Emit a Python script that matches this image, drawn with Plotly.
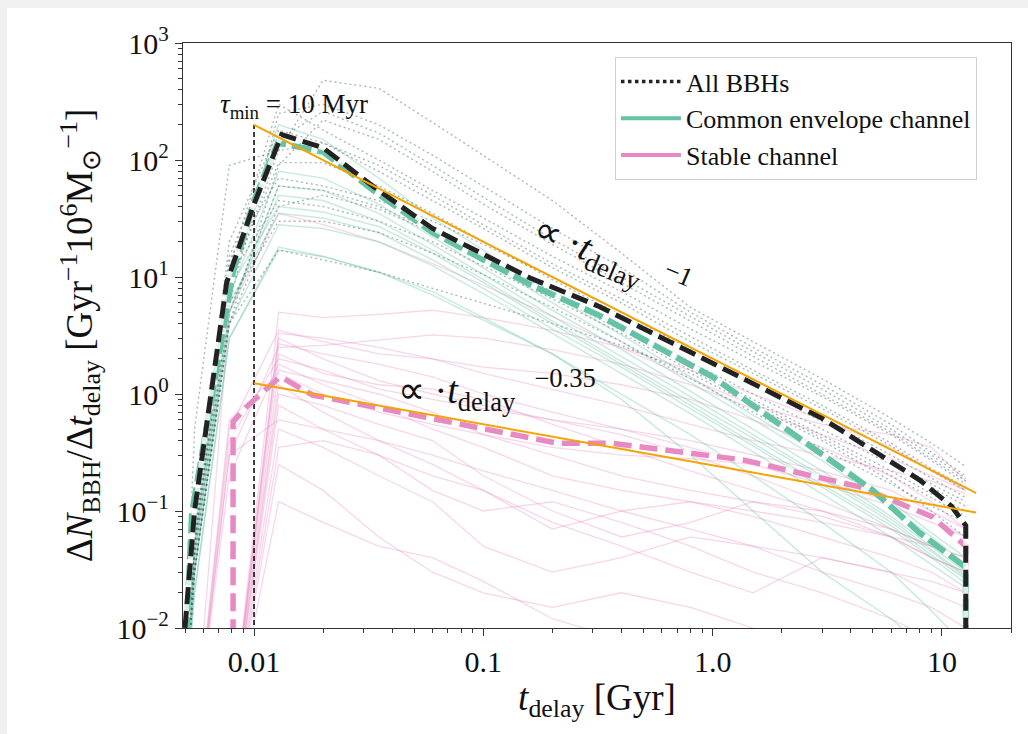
import numpy as np
import plotly.graph_objects as go

# ---------------- data ----------------
# main curves
black_x = [0.005, 0.0055, 0.0076, 0.01, 0.0132, 0.02, 0.034, 0.06, 0.16, 0.32, 1.0, 3.0, 8.0, 11.0, 12.7, 12.7]
black_y = [0.01, 0.1, 9.0, 42, 165, 127, 57, 26, 9.8, 5.6, 1.83, 0.62, 0.184, 0.11, 0.075, 0.005]

ce_x = [0.005, 0.00536, 0.0081, 0.01, 0.0127, 0.02, 0.034, 0.06, 0.16, 0.32, 1.0, 2.56, 5.0, 8.0, 12.7, 12.7]
ce_y = [0.005, 0.096, 11, 45, 140, 118, 53, 24, 8.6, 4.7, 1.4, 0.38, 0.15, 0.065, 0.033, 0.003]

st_x = [0.0081, 0.0081, 0.0093, 0.013, 0.018, 0.21, 0.36, 1.36, 4.37, 9.1, 12.7, 12.7]
st_y = [0.003, 0.58, 0.78, 1.41, 0.98, 0.38, 0.38, 0.273, 0.161, 0.089, 0.05, 0.003]

# power-law guide lines
fit1_x = [0.01, 14.1]
fit1_y = [200, 0.142]
fit2_x = [0.01, 14.1]
fit2_y = [1.235, 0.097]
tau_x = [0.01, 0.01]
tau_y = [0.001, 200]

# background per-model curves on a common grid
grid = [0.005, 0.0055, 0.0078, 0.0128, 0.02, 0.035, 0.06, 0.1, 0.2, 0.4, 0.8, 1.5, 3.0, 6.0, 9.0, 12.7]

dotted_all = [
    [0.004, 0.05, 8, 120, 480, 410, 210, 110, 45, 16, 5.5, 2.8, 1.35, 0.62, 0.38, 0.24],
    [0.003, 0.04, 6, 250, 300, 200, 110, 60, 26, 12, 5.0, 2.5, 1.2, 0.55, 0.32, 0.2],
    [0.003, 0.06, 12, 300, 180, 100, 55, 32, 15, 7.5, 3.6, 1.9, 0.95, 0.45, 0.27, 0.17],
    [0.002, 0.03, 4, 90, 220, 150, 80, 42, 19, 9, 4.2, 2.1, 1.0, 0.47, 0.28, 0.18],
    [0.004, 0.08, 20, 180, 140, 80, 45, 26, 12, 6, 2.8, 1.5, 0.75, 0.36, 0.22, 0.15],
    [0.003, 0.05, 9, 95, 95, 60, 35, 20, 9.5, 4.7, 2.3, 1.25, 0.62, 0.3, 0.19, 0.13],
    [0.002, 0.03, 5, 60, 55, 40, 25, 15, 7.5, 3.8, 1.9, 1.0, 0.5, 0.25, 0.16, 0.11],
    [0.003, 0.05, 10, 45, 40, 30, 20, 12.5, 6.5, 3.3, 1.6, 0.85, 0.42, 0.2, 0.13, 0.09],
    [0.002, 0.04, 6, 30, 30, 24, 16, 10.5, 5.5, 2.8, 1.35, 0.7, 0.34, 0.17, 0.11, 0.08],
    [0.002, 0.03, 4, 17, 14, 11, 8, 6, 4, 2.6, 1.5, 0.8, 0.4, 0.18, 0.1, 0.06],
    [0.003, 0.06, 14, 70, 60, 45, 30, 19, 10, 5, 2.4, 1.2, 0.58, 0.27, 0.17, 0.12],
    [0.002, 0.03, 4, 40, 50, 38, 24, 14.5, 7, 3.5, 1.7, 0.9, 0.45, 0.22, 0.14, 0.1],
    [0.005, 0.5, 90, 120, 140, 90, 50, 28, 13, 6.5, 3.1, 1.6, 0.8, 0.38, 0.23, 0.16],
    [0.003, 0.07, 15, 150, 260, 170, 90, 48, 21, 10, 4.6, 2.3, 1.1, 0.5, 0.3, 0.19],
]

teal_models = [
    [0.003, 0.05, 9, 140, 110, 55, 26, 14, 6, 2.8, 1.25, 0.6, 0.27, 0.11, 0.06, 0.035],
    [0.003, 0.04, 7, 80, 70, 42, 22, 12, 5.2, 2.4, 1.05, 0.5, 0.22, 0.09, 0.05, 0.03],
    [0.002, 0.03, 5, 50, 45, 30, 17, 9.5, 4.2, 1.9, 0.85, 0.42, 0.19, 0.08, 0.045, 0.027],
    [0.002, 0.04, 6, 35, 32, 24, 14, 8, 3.6, 1.7, 0.75, 0.36, 0.16, 0.07, 0.04, 0.024],
    [0.002, 0.03, 4, 28, 26, 20, 12.5, 7.2, 3.3, 1.5, 0.68, 0.32, 0.14, 0.06, 0.035, 0.022],
    [0.003, 0.06, 11, 200, 150, 70, 32, 17, 7, 3.2, 1.4, 0.66, 0.3, 0.12, 0.065, 0.04],
    [0.002, 0.02, 3, 18, 15, 11, 7.5, 4.5, 2.2, 1.0, 0.45, 0.2, 0.08, 0.03, 0.014, 0.007],
    [0.002, 0.03, 5, 60, 55, 35, 19, 10.5, 4.6, 2.1, 0.95, 0.45, 0.2, 0.085, 0.047, 0.028],
    [0.003, 0.05, 8, 40, 36, 27, 16, 9, 4, 1.8, 0.8, 0.38, 0.17, 0.075, 0.042, 0.026],
    [0.002, 0.02, 3, 17, 15, 11, 7, 4.3, 2.2, 0.9, 0.3, 0.1, 0.03, 0.012, 0.006, 0.003],
]

pink_models = [
    [0.001, 0.001, 0.5, 3.5, 2.8, 2.2, 2.0, 1.7, 1.5, 1.2, 0.9, 0.6, 0.35, 0.2, 0.12, 0.07],
    [0.001, 0.001, 0.001, 3.0, 2.0, 1.3, 1.0, 0.8, 0.6, 0.45, 0.3, 0.2, 0.12, 0.07, 0.05, 0.035],
    [0.001, 0.001, 0.3, 2.5, 2.6, 2.9, 3.2, 3.0, 2.4, 1.8, 1.2, 0.75, 0.45, 0.28, 0.2, 0.15],
    [0.001, 0.001, 0.001, 5.0, 4.5, 4.8, 5.2, 4.5, 3.5, 2.5, 1.6, 1.0, 0.6, 0.35, 0.22, 0.15],
    [0.001, 0.001, 0.2, 1.8, 1.2, 0.8, 0.5, 0.35, 0.2, 0.15, 0.12, 0.1, 0.08, 0.06, 0.04, 0.03],
    [0.001, 0.001, 0.001, 1.2, 0.7, 0.4, 0.25, 0.15, 0.07, 0.1, 0.12, 0.09, 0.06, 0.04, 0.03, 0.02],
    [0.001, 0.001, 0.001, 0.8, 0.5, 0.3, 0.15, 0.1, 0.12, 0.08, 0.05, 0.03, 0.02, 0.012, 0.008, 0.005],
    [0.001, 0.001, 0.4, 2.0, 1.6, 1.1, 0.9, 0.75, 0.6, 0.5, 0.4, 0.3, 0.22, 0.15, 0.1, 0.07],
    [0.001, 0.001, 0.001, 0.5, 0.35, 0.2, 0.12, 0.05, 0.03, 0.04, 0.06, 0.05, 0.03, 0.02, 0.015, 0.01],
    [0.001, 0.001, 0.001, 0.25, 0.15, 0.06, 0.03, 0.02, 0.015, 0.02, 0.015, 0.01, 0.006, 0.004, 0.003, 0.002],
    [0.001, 0.001, 0.001, 2.2, 1.5, 1.2, 1.1, 0.9, 0.55, 0.35, 0.22, 0.15, 0.1, 0.07, 0.05, 0.04],
    [0.001, 0.001, 0.6, 1.5, 1.0, 0.7, 0.55, 0.45, 0.3, 0.2, 0.15, 0.12, 0.09, 0.06, 0.05, 0.04],
    [0.001, 0.001, 0.001, 3.3, 3.0, 2.5, 2.0, 1.5, 1.1, 0.8, 0.55, 0.4, 0.3, 0.22, 0.18, 0.14],
    [0.001, 0.001, 0.001, 0.12, 0.08, 0.05, 0.04, 0.025, 0.012, 0.008, 0.01, 0.007, 0.005, 0.003, 0.002, 0.001],
    [0.001, 0.001, 0.001, 1.0, 0.8, 0.55, 0.4, 0.2, 0.1, 0.06, 0.08, 0.12, 0.1, 0.06, 0.04, 0.03],
    [0.001, 0.001, 0.3, 0.6, 0.5, 0.4, 0.3, 0.22, 0.15, 0.1, 0.07, 0.05, 0.04, 0.03, 0.025, 0.02],
    [0.001, 0.001, 5, 35, 28, 20, 13, 8.5, 4.6, 2.5, 1.35, 0.8, 0.55, 0.45, 0.35, 0.18],
    [0.001, 0.001, 0.001, 1.6, 1.3, 1.0, 0.7, 0.45, 0.35, 0.3, 0.28, 0.25, 0.18, 0.12, 0.09, 0.06],
    [0.001, 0.001, 0.001, 0.35, 0.4, 0.3, 0.2, 0.15, 0.08, 0.05, 0.03, 0.02, 0.04, 0.03, 0.02, 0.015],
    [0.001, 0.001, 0.001, 2.7, 2.2, 1.8, 1.4, 1.0, 0.7, 0.5, 0.35, 0.25, 0.17, 0.11, 0.08, 0.06],
]

y_tickvals = [1e-2, 1e-1, 1, 10, 100, 1000]
y_ticktext = ["10<sup>−2</sup>", "10<sup>−1</sup>", "10<sup>0</sup>", "10<sup>1</sup>", "10<sup>2</sup>", "10<sup>3</sup>"]
x_tickvals = [0.01, 0.1, 1.0, 10]
x_ticktext = ["0.01", "0.1", "1.0", "10"]

# ---------------- style ----------------
TEAL = "#66c2a5"
PINK = "#e78ac3"
ORANGE = "#f5a300"
FONT = "Liberation Serif"

fig = go.Figure()

for ys in pink_models:
    fig.add_trace(go.Scatter(x=grid, y=ys, mode="lines", showlegend=False, hoverinfo="skip",
                             line=dict(color="rgba(231,138,195,0.35)", width=1.3)))
for ys in teal_models:
    fig.add_trace(go.Scatter(x=grid, y=ys, mode="lines", showlegend=False, hoverinfo="skip",
                             line=dict(color="rgba(102,194,165,0.35)", width=1.5)))
for ys in dotted_all:
    fig.add_trace(go.Scatter(x=grid, y=ys, mode="lines", showlegend=False, hoverinfo="skip",
                             line=dict(color="rgba(70,100,100,0.45)", width=1.4, dash="2px,3px")))

# tau_min marker
fig.add_trace(go.Scatter(x=tau_x, y=tau_y, mode="lines", showlegend=False, hoverinfo="skip",
                         line=dict(color="#111", width=1.6, dash="5px,3px")))

# main curves (white under-stroke to give light gaps)
for xs, ys, col, w, dash in [
    (st_x, st_y, PINK, 5.5, "18px,8px"),
    (ce_x, ce_y, TEAL, 6, "20px,6px"),
    (black_x, black_y, "#222222", 5, "17px,7px"),
]:
    fig.add_trace(go.Scatter(x=xs, y=ys, mode="lines", showlegend=False, hoverinfo="skip",
                             line=dict(color="rgba(255,255,255,0.75)", width=w)))
    fig.add_trace(go.Scatter(x=xs, y=ys, mode="lines", showlegend=False, hoverinfo="skip",
                             line=dict(color=col, width=w, dash=dash)))

# fits
fig.add_trace(go.Scatter(x=fit1_x, y=fit1_y, mode="lines", showlegend=False, hoverinfo="skip",
                         line=dict(color=ORANGE, width=2)))
fig.add_trace(go.Scatter(x=fit2_x, y=fit2_y, mode="lines", showlegend=False, hoverinfo="skip",
                         line=dict(color=ORANGE, width=2)))

# legend entries
fig.add_trace(go.Scatter(x=[None], y=[None], mode="lines", name="All BBHs",
                         line=dict(color="#222", width=3.5, dash="dot")))
fig.add_trace(go.Scatter(x=[None], y=[None], mode="lines", name="Common envelope channel",
                         line=dict(color=TEAL, width=4)))
fig.add_trace(go.Scatter(x=[None], y=[None], mode="lines", name="Stable channel",
                         line=dict(color=PINK, width=4)))

minor_y = [m * 10.0 ** e for e in range(-2, 3) for m in range(2, 10)]
minor_x = [m * 10.0 ** e for e in range(-3, 2) for m in range(2, 10)]

# plot area in page pixels: x 183..1011, y 43..628 (page has an 8px body margin)
fig.update_layout(
    width=1028, height=734,
    margin=dict(l=175, r=25, t=35, b=114),
    paper_bgcolor="white", plot_bgcolor="white",
    font=dict(family=FONT, color="#111", size=22),
    legend=dict(x=0.5217, y=0.976, xanchor="left", yanchor="top",
                bgcolor="rgba(255,255,255,0.85)", bordercolor="#d0d0d0", borderwidth=1,
                font=dict(size=26, family=FONT), tracegroupgap=2, itemwidth=60),
    xaxis=dict(type="log", range=[np.log10(0.0049), np.log10(20.0)],
               tickvals=x_tickvals, ticktext=x_ticktext, ticks="outside", ticklen=7,
               tickwidth=1.2, tickcolor="#333", tickfont=dict(size=30, family=FONT),
               showgrid=False, zeroline=False, showline=True, linecolor="#333", linewidth=1.3,
               mirror=True,
               minor=dict(tickvals=minor_x, ticks="outside", ticklen=4, tickcolor="#333", showgrid=False),
               title=dict(text="<i>t</i><sub>delay</sub> [Gyr]", font=dict(size=37, family=FONT), standoff=6)),
    yaxis=dict(type="log", range=[-2, 3],
               tickvals=y_tickvals, ticktext=y_ticktext, ticks="outside", ticklen=7,
               tickwidth=1.2, tickcolor="#333", tickfont=dict(size=30, family=FONT),
               showgrid=False, zeroline=False, showline=True, linecolor="#333", linewidth=1.3,
               mirror=True,
               minor=dict(tickvals=minor_y, ticks="outside", ticklen=4, tickcolor="#333", showgrid=False),
               title=dict(text="Δ<i>N</i><sub>BBH</sub>/Δ<i>t</i><sub>delay</sub> [Gyr<sup>−1</sup>10<sup>6</sup>M<sub>⊙</sub><sup>−1</sup>]",
                          font=dict(size=37, family=FONT), standoff=12)),
    annotations=[
        dict(x=np.log10(0.0149), y=np.log10(290), xref="x", yref="y", showarrow=False,
             text="<i>τ</i><sub>min</sub> = 10 Myr", font=dict(size=27, family=FONT)),
        dict(x=np.log10(0.363), y=np.log10(14.5), xref="x", yref="y", showarrow=False, textangle=23,
             text="∝ ·<i>t</i><sub>delay</sub>  <sup>−1</sup>", font=dict(size=38, family=FONT)),
        dict(x=np.log10(0.115), y=np.log10(1.08), xref="x", yref="y", showarrow=False,
             text="∝ ·<i>t</i><sub>delay</sub>  <sup>−0.35</sup>", font=dict(size=38, family=FONT)),
    ],
)

post = ("document.documentElement.style.overflow='hidden';"
        "document.body.style.overflow='hidden';"
        "document.body.style.background='transparent';"
        "document.documentElement.style.background="
        "'linear-gradient(to right, #f0f0f0 7px, rgba(0,0,0,0) 7px) no-repeat, "
        "linear-gradient(to bottom, #f0f0f0 8px, rgba(0,0,0,0) 8px) no-repeat, white';")
fig.write_html("out.html", post_script=post)
